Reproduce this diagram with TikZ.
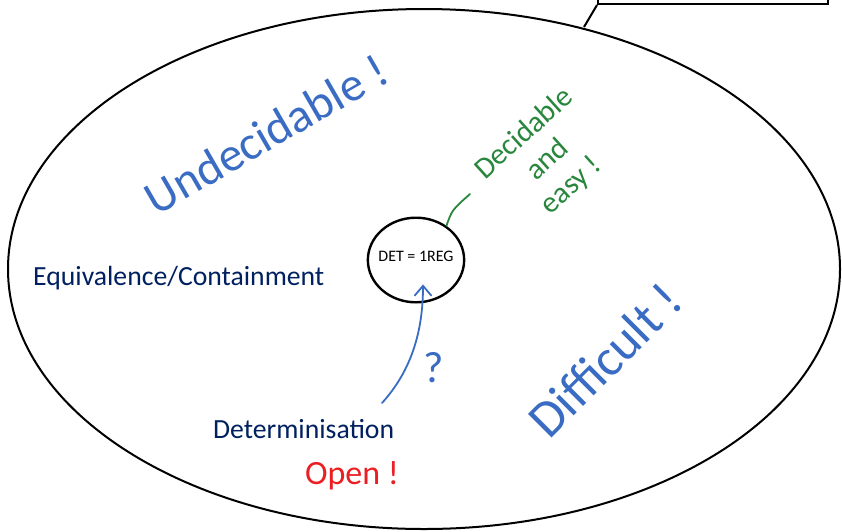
\documentclass[tikz,border=0pt]{standalone}
\usepackage{fontspec}
\setmainfont{Carlito}
\newfontfamily\handfont{Carlito}
\usetikzlibrary{arrows.meta}

\definecolor{inkblue}{RGB}{58,108,196}
\definecolor{inkgreen}{RGB}{40,135,60}
\definecolor{inkred}{RGB}{235,30,35}
\definecolor{navy}{RGB}{0,32,96}

\tikzset{
  outline/.style={draw=black, line width=2pt},
  typed/.style={text=navy, inner sep=0pt, font=\fontsize{27.7}{32}\selectfont},
  hand/.style 2 args={inner sep=0pt, font=\handfont\fontsize{#1}{#2}\selectfont},
  inkline/.style={line width=1.8pt, line cap=round}
}

\begin{document}
\begin{tikzpicture}[x=1pt,y=-1pt]
  \clip (0,0) rectangle (842,531);
  \fill[white] (0,0) rectangle (842,531);

  % the big oval
  \draw[outline] (424,269) ellipse [x radius=416, y radius=260];

  % callout box at the top right
  \node[outline, fill=white, line width=2.4pt, anchor=south west,
        minimum width=230pt, minimum height=40pt, inner sep=0pt] (box) at (597,5) {};
  \coordinate (tail) at (584,27);
  \draw[line width=2pt] (tail) -- (box.south west);

  % central circle
  \node[outline, line width=2.4pt, circle, minimum size=90pt,
        inner sep=0pt, xscale=1.07, yscale=0.94] (det) at (416,260) {};
  \node[inner sep=0pt, font=\fontsize{16}{19}\selectfont] (detlabel) at (416,256) {DET = 1REG};

  % typed labels
  \node[typed, anchor=base west] (eq) at (33,285) {Equivalence/Containment};
  \node[typed, anchor=base west] (detm) at (213,438) {Determinisation};

  % handwritten notes
  \node[hand={48}{54}, text=inkblue, rotate=30] (undec) at (266,134) {Undecidable !};
  \node[hand={30}{35}, text=inkgreen, rotate=42, align=center] (easy) at (548,160)
       {Decidable\\and\\easy !};
  \node[hand={52}{58}, text=inkblue, rotate=45] (diff) at (605,360) {Difficult !};
  \node[hand={34}{38}, text=inkred] (open) at (352,476) {Open !};
  \node[hand={44}{48}, text=inkblue] (qm) at (434,368) {?};

  % connectors
  \coordinate (qstart) at (382,403);
  \coordinate (dectail) at (470,194);
  \draw[inkline, draw=inkblue, -{Straight Barb[length=10pt,width=17pt,line width=1.8pt]}]
       (qstart) .. controls (412,370) and (423,330) .. ([xshift=7pt,yshift=19pt]det.south);
  \draw[inkline, draw=inkgreen] (det.52) .. controls (452,210) .. (dectail);
\end{tikzpicture}
\end{document}
